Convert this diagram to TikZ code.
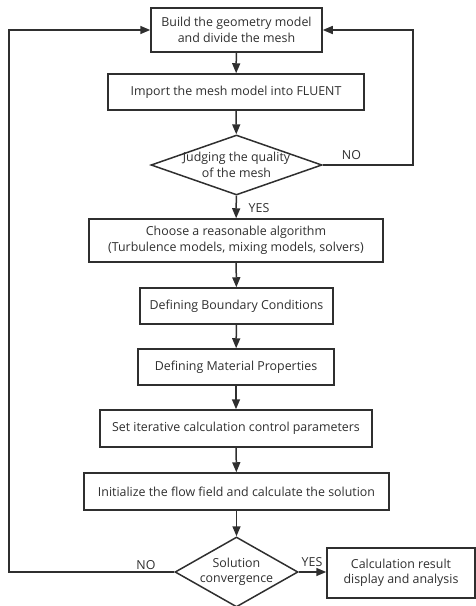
\documentclass[tikz,border=0pt]{standalone}
\usepackage{fontspec}
\setmainfont{Open Sans}
\usetikzlibrary{arrows.meta,shapes.geometric}
\definecolor{ink}{HTML}{2F2F2F}
\begin{document}
\begin{tikzpicture}[x=1pt,y=-1pt,
  every node/.style={font=\fontsize{12.4}{15.5}\selectfont, text=ink},
  procbox/.style={draw=ink, line width=1.5pt, rectangle, inner sep=0pt, align=center},
  decbox/.style={draw=ink, line width=1.5pt, diamond, inner sep=0pt},
  flow/.style={draw=ink, line width=1.5pt, -{Triangle[length=10pt,width=8pt]}},
  lbl/.style={inner sep=0pt}]
\useasboundingbox (0,0) rectangle (476,606);
\node[procbox, minimum width=171pt, minimum height=44pt] (b1) at (236.5,30) {Build the geometry model\\and divide the mesh};
\node[procbox, minimum width=256pt, minimum height=36pt] (b2) at (236,92) {Import the mesh model into FLUENT};
\node[decbox, minimum width=171pt, minimum height=60pt] (d1) at (236.5,165) {};
\node[align=center, inner sep=0pt] (t1) at (d1.center) {Judging the quality\\of the mesh};
\node[procbox, minimum width=294pt, minimum height=43pt] (b3) at (236,240.5) {Choose a reasonable algorithm\\(Turbulence models, mixing models, solvers)};
\node[procbox, minimum width=193pt, minimum height=36pt] (b4) at (236.5,306) {Defining Boundary Conditions};
\node[procbox, minimum width=196pt, minimum height=36pt] (b5) at (236,367) {Defining Material Properties};
\node[procbox, minimum width=272pt, minimum height=37pt] (b6) at (236,428.5) {Set iterative calculation control parameters};
\node[procbox, minimum width=305pt, minimum height=37pt] (b7) at (236.5,491.5) {Initialize the flow field and calculate the solution};
\node[decbox, minimum width=123pt, minimum height=70pt] (d2) at (236.5,572) {};
\node[align=center, inner sep=0pt] (t2) at (d2.center) {Solution\\convergence};
\node[procbox, minimum width=148pt, minimum height=50pt] (b8) at (401,573) {Calculation result\\display and analysis};
\node[lbl] (no1) at (351.5,155) {NO};
\node[lbl] (yes1) at (259,208) {YES};
\node[lbl] (no2) at (146,565) {NO};
\node[lbl] (yes2) at (312,562) {YES};
\coordinate (r1) at (413,165);
\coordinate (l1) at (9,572);
\draw[flow] (b1) -- (b2);
\draw[flow] (b2) -- (d1);
\draw[flow] (d1) -- (b3);
\draw[flow] (b3) -- (b4);
\draw[flow] (b4) -- (b5);
\draw[flow] (b5) -- (b6);
\draw[flow] (b6) -- (b7);
\draw[flow] (b7) -- (d2);
\draw[flow] (d2.east) -- (b8.west |- d2.east);
\draw[flow] (d1.east) -- (r1) |- (b1.east);
\draw[flow] (d2.west) -- (l1) |- (b1.west);
\end{tikzpicture}
\end{document}
